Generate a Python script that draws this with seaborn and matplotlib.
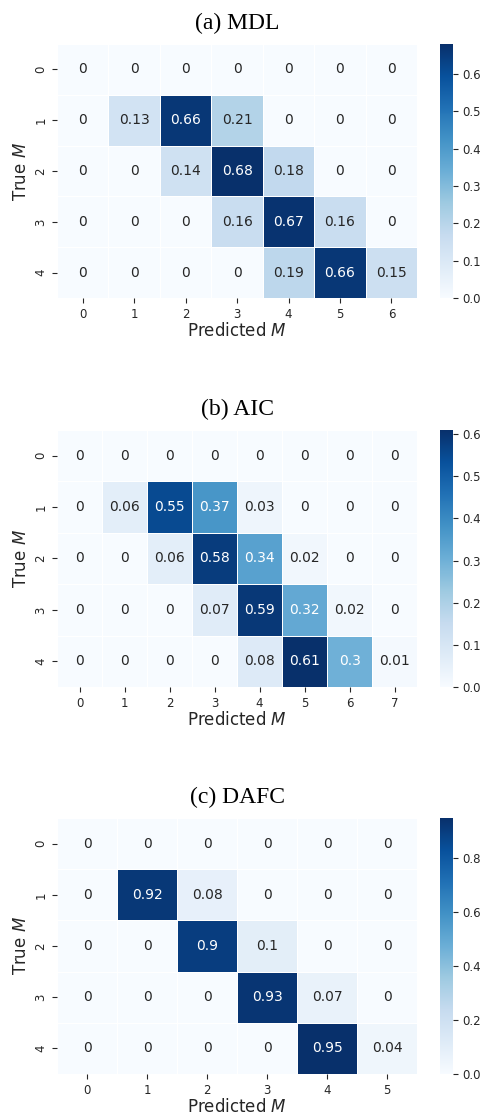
import numpy as np
import matplotlib
matplotlib.use("Agg")
import matplotlib.pyplot as plt
import seaborn as sns

# confusion matrices (rows = true M, cols = predicted M)
mdl_vals = [
    [0, 0, 0, 0, 0, 0, 0],
    [0, 0.13, 0.66, 0.21, 0, 0, 0],
    [0, 0, 0.14, 0.68, 0.18, 0, 0],
    [0, 0, 0, 0.16, 0.67, 0.16, 0],
    [0, 0, 0, 0, 0.19, 0.66, 0.15],
]
aic_vals = [
    [0, 0, 0, 0, 0, 0, 0, 0],
    [0, 0.06, 0.55, 0.37, 0.03, 0, 0, 0],
    [0, 0, 0.06, 0.58, 0.34, 0.02, 0, 0],
    [0, 0, 0, 0.07, 0.59, 0.32, 0.02, 0],
    [0, 0, 0, 0, 0.08, 0.61, 0.3, 0.01],
]
dafc_vals = [
    [0, 0, 0, 0, 0, 0],
    [0, 0.92, 0.08, 0, 0, 0],
    [0, 0, 0.9, 0.1, 0, 0],
    [0, 0, 0, 0.93, 0.07, 0],
    [0, 0, 0, 0, 0.95, 0.04],
]
titles = ["(a) MDL", "(b) AIC", "(c) DAFC"]
panels = [mdl_vals, aic_vals, dafc_vals]

plt.rcParams["text.color"] = "#262626"
plt.rcParams["axes.labelcolor"] = "#262626"
plt.rcParams["xtick.color"] = "#262626"
plt.rcParams["ytick.color"] = "#262626"

fig = plt.figure(figsize=(4.84, 11.15), dpi=100)

# [bottom, height] of each panel in figure fraction
rows = [(0.7327, 0.2278), (0.3839, 0.2305), (0.0368, 0.2296)]

for vals, title, (y0, h) in zip(panels, titles, rows):
    ax = fig.add_axes([0.1178, y0, 0.744, h])
    cax = fig.add_axes([0.909, y0, 0.0269, h])
    data = np.array(vals)
    sns.heatmap(data, ax=ax, cbar_ax=cax, cmap="Blues", annot=True,
                linewidths=0.5, linecolor="white",
                annot_kws={"fontsize": 10})
    ax.set_xticklabels([str(i) for i in range(data.shape[1])], fontsize=8.5)
    ax.set_yticklabels([str(i) for i in range(data.shape[0])], fontsize=8.5,
                       rotation=90, va="center")
    ax.tick_params(length=3.5, width=0.8)
    ax.set_xlabel("Predicted $M$", fontsize=12, labelpad=1)
    ax.set_ylabel("True $M$", fontsize=12, labelpad=3)
    ax.set_title(title, fontsize=17, family="Liberation Serif", pad=11,
                 color="black")
    cax.tick_params(labelsize=8.5, length=3.5, width=0.8)

fig.savefig("out.png", dpi=100)
